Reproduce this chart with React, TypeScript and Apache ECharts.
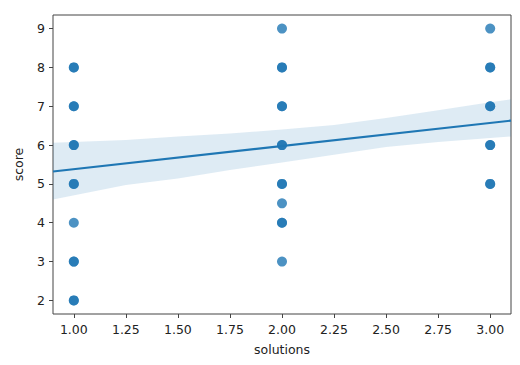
import React, { useEffect, useRef } from "react";
import * as echarts from "echarts";

const xTicks = [1.0, 1.25, 1.5, 1.75, 2.0, 2.25, 2.5, 2.75, 3.0];
const yTicks = [2, 3, 4, 5, 6, 7, 8, 9];

// scatter observations (solutions, score); repeated entries = overlapping points
const obsSolutions = [
  1, 1, 1, 1, 1, 1, 1, 1, 1, 1, 1, 1, 1,
  2, 2, 2, 2, 2, 2, 2, 2, 2, 2, 2, 2, 2,
  3, 3, 3, 3, 3, 3, 3, 3, 3,
];
const obsScore = [
  2, 2, 3, 3, 4, 5, 5, 6, 6, 7, 7, 8, 8,
  3, 4, 4, 4.5, 5, 5, 6, 6, 7, 7, 8, 8, 9,
  5, 5, 6, 6, 7, 7, 8, 8, 9,
];

// regression fit
const fitX = [0.9, 3.1];
const fitY = [5.32, 6.63];

// confidence band
const bandX = [0.9, 1.25, 1.5, 1.75, 2.0, 2.25, 2.5, 2.75, 3.0, 3.1];
const bandUpper = [6.06, 6.13, 6.22, 6.3, 6.4, 6.52, 6.7, 6.9, 7.1, 7.18];
const bandLower = [4.6, 4.97, 5.14, 5.36, 5.55, 5.75, 5.95, 6.08, 6.18, 6.22];

const BLUE = "#1f77b4";
const FONT = "DejaVu Sans";

export default function App() {
  const ref = useRef<HTMLDivElement>(null);
  useEffect(() => {
    if (!ref.current) return;
    const chart = echarts.init(ref.current, null, { renderer: "svg" });
    const bandData = bandX.map((x, i) => [x, bandUpper[i], bandLower[i]]);
    chart.setOption({
      animation: false,
      backgroundColor: "#fff",
      grid: {
        left: 53,
        top: 15,
        right: 9,
        bottom: 51,
        show: true,
        borderColor: "#444",
        borderWidth: 1,
        backgroundColor: "transparent",
      },
      xAxis: {
        type: "value",
        min: 0.9,
        max: 3.1,
        name: "solutions",
        nameLocation: "middle",
        nameGap: 29,
        nameTextStyle: { fontFamily: FONT, fontSize: 12.5, color: "#222" },
        axisLine: { show: false },
        splitLine: { show: false },
        axisTick: {
          show: true,
          length: 4,
          lineStyle: { color: "#444" },
          customValues: xTicks,
        },
        axisLabel: {
          margin: 9,
          fontFamily: FONT,
          fontSize: 12.5,
          color: "#222",
          customValues: xTicks,
          formatter: (v: number) => v.toFixed(2),
        },
      },
      yAxis: {
        type: "value",
        min: 1.65,
        max: 9.35,
        name: "score",
        nameLocation: "middle",
        nameGap: 28,
        nameTextStyle: { fontFamily: FONT, fontSize: 12.5, color: "#222" },
        axisLine: { show: false },
        splitLine: { show: false },
        axisTick: {
          show: true,
          length: 4,
          lineStyle: { color: "#444" },
          customValues: yTicks,
        },
        axisLabel: {
          margin: 8,
          fontFamily: FONT,
          fontSize: 12.5,
          color: "#222",
          customValues: yTicks,
          formatter: (v: number) => String(v),
        },
      },
      series: [
        {
          type: "scatter",
          data: obsSolutions.map((x, i) => [x, obsScore[i]]),
          symbolSize: 10,
          itemStyle: { color: BLUE, opacity: 0.8 },
          z: 2,
        },
        {
          type: "custom",
          data: bandData,
          z: 3,
          silent: true,
          renderItem: (params: any, api: any) => {
            if (params.dataIndex !== 0) return null;
            const up = bandData.map((d) => api.coord([d[0], d[1]]));
            const lo = bandData
              .slice()
              .reverse()
              .map((d) => api.coord([d[0], d[2]]));
            return {
              type: "polygon",
              shape: { points: up.concat(lo) },
              style: { fill: BLUE, opacity: 0.15 },
            };
          },
        },
        {
          type: "line",
          data: fitX.map((x, i) => [x, fitY[i]]),
          showSymbol: false,
          lineStyle: { color: BLUE, width: 2.2 },
          z: 4,
        },
      ],
    });
    return () => chart.dispose();
  }, []);
  return (
    <div
      ref={ref}
      style={{ position: "absolute", left: 0, top: 0, width: 520, height: 365 }}
    />
  );
}
